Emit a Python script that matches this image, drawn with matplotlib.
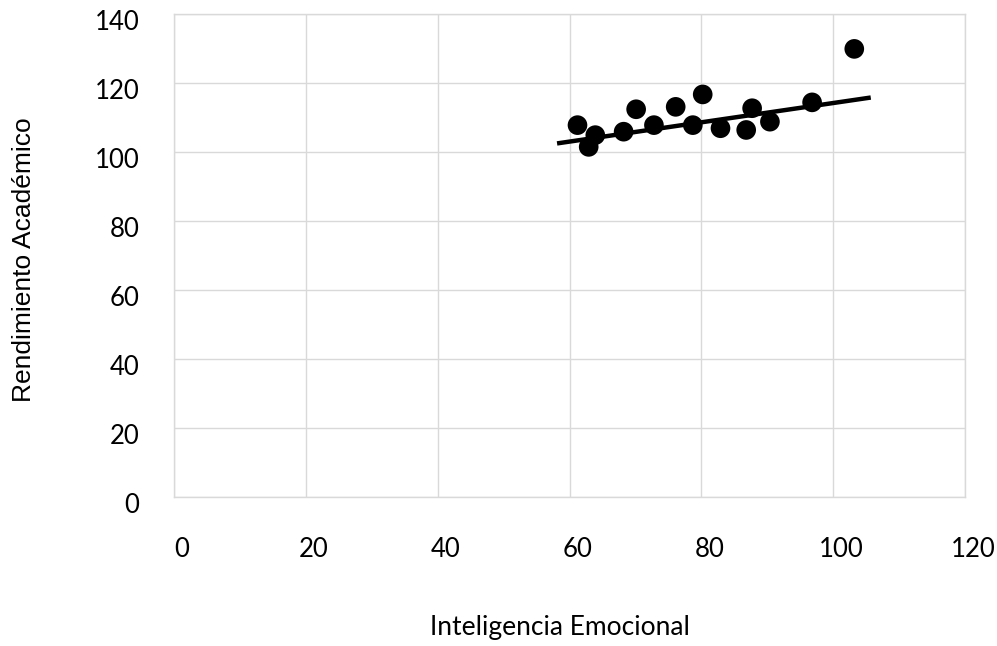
import matplotlib
matplotlib.use("Agg")
import matplotlib.pyplot as plt
import matplotlib.transforms as mtransforms

# Puntos
inteligencia = [61.2, 62.9, 63.9, 68.2, 70.1, 72.8, 76.1, 78.7, 80.2, 82.9,
                86.8, 87.7, 90.4, 96.8, 103.2]
rendimiento = [107.7, 101.4, 104.8, 105.8, 112.3, 107.7, 113.0, 107.7, 116.6, 106.8,
               106.3, 112.6, 108.7, 114.3, 129.8]

# Linea de tendencia (extremos)
trend_x = [58.1, 105.7]
trend_y = [102.4, 115.7]

x_ticks = [0, 20, 40, 60, 80, 100, 120]
y_ticks = [0, 20, 40, 60, 80, 100, 120, 140]

plt.rcParams['font.family'] = ['Lato', 'DejaVu Sans']

fig = plt.figure(figsize=(9.97, 6.46), dpi=100)
ax = fig.add_axes([0.1747, 0.2311, 0.7932, 0.7477])

ax.plot(trend_x, trend_y, color="black", linewidth=3.2, solid_capstyle="butt", zorder=3)
ax.scatter(inteligencia, rendimiento, s=200, color="black", edgecolors="none", zorder=4)

ax.set_xlim(0, 120)
ax.set_ylim(0, 140)
ax.set_xticks(x_ticks)
ax.set_yticks(y_ticks)
ax.grid(True, color="#d9d9d9", linewidth=1)
ax.set_axisbelow(True)
for s in ax.spines.values():
    s.set_color("#d9d9d9")
    s.set_linewidth(1)
ax.tick_params(axis="both", length=0, labelsize=18.5, colors="black")
ax.tick_params(axis="x", pad=29)
ax.tick_params(axis="y", pad=25)

# small shifts like the original labels
for lab in ax.get_xticklabels():
    lab.set_transform(lab.get_transform() + mtransforms.ScaledTranslation(8 / 100, 0, fig.dpi_scale_trans))
for lab in ax.get_yticklabels():
    lab.set_transform(lab.get_transform() + mtransforms.ScaledTranslation(0, -6 / 100, fig.dpi_scale_trans))

ax.set_xlabel("Inteligencia Emocional", fontsize=19)
ax.xaxis.set_label_coords(0.488, -0.245)
ax.set_ylabel("Rendimiento Académico", fontsize=19,
              family=["Liberation Sans", "DejaVu Sans"])
ax.yaxis.set_label_coords(-0.175, 0.49)

fig.savefig("out.png", dpi=100)
